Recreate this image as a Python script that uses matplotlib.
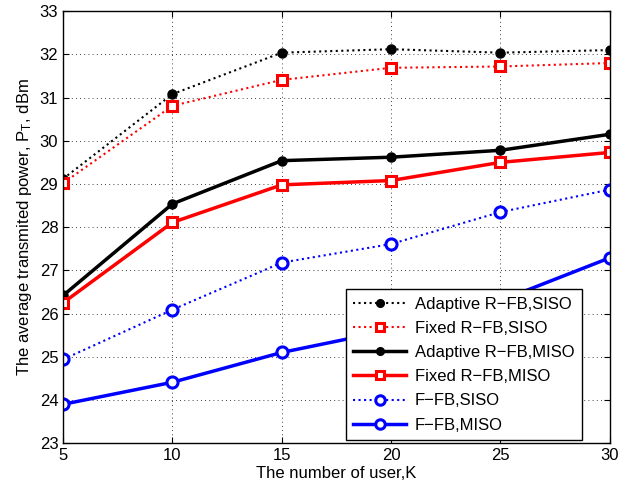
import matplotlib
matplotlib.use("Agg")
import matplotlib.pyplot as plt

plt.rcParams['font.family'] = ['Liberation Sans', 'DejaVu Sans']
plt.rcParams['mathtext.fontset'] = 'custom'
plt.rcParams['mathtext.rm'] = 'Liberation Sans'
plt.rcParams['mathtext.it'] = 'Liberation Sans'

users = [5, 10, 15, 20, 25, 30]
adaptive_siso = [29.12, 31.08, 32.04, 32.12, 32.04, 32.10]
fixed_siso = [29.02, 30.81, 31.41, 31.69, 31.72, 31.80]
adaptive_miso = [26.42, 28.54, 29.54, 29.62, 29.78, 30.15]
fixed_miso = [26.25, 28.11, 28.98, 29.08, 29.50, 29.73]
ffb_siso = [24.94, 26.09, 27.18, 27.61, 28.35, 28.87]
ffb_miso = [23.90, 24.41, 25.10, 25.62, 26.30, 27.29]

labels = ["Adaptive R\u2212FB,SISO", "Fixed R\u2212FB,SISO", "Adaptive R\u2212FB,MISO",
          "Fixed R\u2212FB,MISO", "F\u2212FB,SISO", "F\u2212FB,MISO"]

fig = plt.figure(figsize=(6.19, 4.87), dpi=100)
ax = fig.add_axes([0.102, 0.090, 0.883, 0.887])

ax.plot(users, adaptive_siso, color='black', linestyle=':', linewidth=1.5,
        marker='o', markersize=6.5, markerfacecolor='black', label=labels[0])
ax.plot(users, fixed_siso, color='red', linestyle=':', linewidth=1.5,
        marker='s', markersize=7, markerfacecolor='white', markeredgewidth=2.2, label=labels[1])
ax.plot(users, adaptive_miso, color='black', linestyle='-', linewidth=2.5,
        marker='o', markersize=6.5, markerfacecolor='black', label=labels[2])
ax.plot(users, fixed_miso, color='red', linestyle='-', linewidth=2.5,
        marker='s', markersize=7, markerfacecolor='white', markeredgewidth=2.2, label=labels[3])
ax.plot(users, ffb_siso, color='blue', linestyle=':', linewidth=1.5,
        marker='o', markersize=8, markerfacecolor='white', markeredgewidth=2.2, label=labels[4])
ax.plot(users, ffb_miso, color='blue', linestyle='-', linewidth=2.5,
        marker='o', markersize=8, markerfacecolor='white', markeredgewidth=2.2, label=labels[5])

ax.set_xlim(5, 30)
ax.set_ylim(23, 33)
ax.set_xticks([5, 10, 15, 20, 25, 30])
ax.set_yticks(range(23, 34))
ax.tick_params(direction='in', top=True, right=True, labelsize=12, length=4)
ax.grid(True, linestyle=(0, (1, 4)), color='black', linewidth=0.6)
for s in ax.spines.values():
    s.set_linewidth(1.0)

ax.set_xlabel("The number of user,K", fontsize=12, labelpad=2)
ax.set_ylabel("The average transmited power, P$_\\mathrm{T}$, dBm", fontsize=12, labelpad=4)

leg = ax.legend(loc='lower right', bbox_to_anchor=(0.949, 0.007), fontsize=12,
                numpoints=1, handlelength=3.2, markerscale=0.85,
                fancybox=False, framealpha=1, edgecolor='black',
                borderaxespad=0.0, labelspacing=0.55, borderpad=0.45, handletextpad=0.5)
leg.get_frame().set_linewidth(1.0)

fig.savefig("out.png", dpi=100)
